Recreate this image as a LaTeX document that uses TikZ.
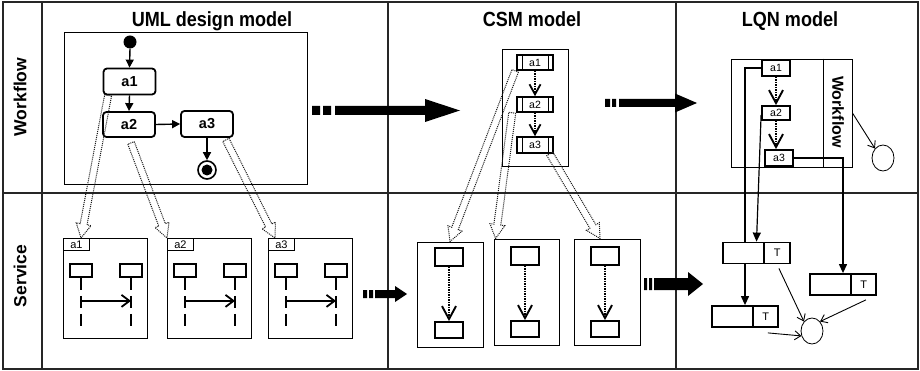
\documentclass[tikz,border=0pt]{standalone}
\usepackage{fontspec}
\setmainfont{Liberation Sans}
\usetikzlibrary{arrows.meta,calc,shapes.geometric}

\tikzset{
  grid/.style={line width=1.3pt, draw=black!85},
  title/.style={font=\fontsize{20.5}{24}\selectfont\bfseries, xscale=0.88, inner sep=0pt, anchor=base},
  lanelabel/.style={font=\fontsize{17.5}{20}\selectfont\bfseries, rotate=90, inner sep=0pt},
  container/.style={draw, line width=0.9pt, inner sep=0pt},
  act/.style={draw, line width=1.8pt, rounded corners=3.5pt, minimum width=52pt, minimum height=26pt,
    inner sep=0pt, font=\fontsize{14.5}{16}\selectfont\bfseries},
  tri/.style={line width=1.4pt, -{Triangle[length=8pt,width=8pt]}},
  hollow/.style={densely dotted, line width=1pt, draw=black!90},
  seqbox/.style={draw, line width=0.9pt, minimum width=84pt, minimum height=100pt, inner sep=0pt, anchor=north west},
  seqtab/.style={draw, line width=0.8pt, minimum width=26pt, minimum height=12pt, inner sep=0pt,
    anchor=north west, font=\fontsize{11}{12}\selectfont},
  lifehead/.style={draw, line width=1.8pt, minimum width=22pt, minimum height=13pt, inner sep=0pt},
  lifeline/.style={line width=1.4pt, dash pattern=on 12pt off 6pt},
  msg/.style={line width=1.8pt, -{Straight Barb[length=8pt,width=12pt]}},
  csmstep/.style={draw, line width=1.6pt, minimum width=36pt, minimum height=15pt, inner sep=0pt,
    font=\fontsize{10.5}{12}\selectfont,
    path picture={\draw[line width=0.9pt]
      ([xshift=5pt]path picture bounding box.north west) -- ([xshift=5pt]path picture bounding box.south west)
      ([xshift=-5pt]path picture bounding box.north east) -- ([xshift=-5pt]path picture bounding box.south east);}},
  dotarr/.style={densely dotted, line width=1.5pt, -{Straight Barb[length=10pt,width=11pt,line width=1.8pt]}},
  dotarrbig/.style={densely dotted, line width=1.5pt, -{Straight Barb[length=13pt,width=14pt,line width=1.9pt]}},
  csmrect/.style={draw, line width=1.8pt, minimum width=28pt, minimum height=18pt, inner sep=0pt},
  lqstep/.style={draw, line width=1.8pt, minimum width=28pt, minimum height=15pt, inner sep=0pt,
    font=\fontsize{10.5}{12}\selectfont},
  task/.style={draw, line width=1.8pt, minimum height=21pt, inner sep=0pt},
  tpart/.style={draw, line width=1.5pt, minimum width=26pt, minimum height=21pt, inner sep=0pt,
    anchor=east, font=\fontsize{11}{12}\selectfont},
  lqarr/.style={line width=1.2pt, -{Triangle[length=9pt,width=8pt]}},
  thinarr/.style={line width=0.9pt, -{Straight Barb[length=6pt,width=9pt]}},
  proc/.style={ellipse, draw, line width=0.8pt, minimum width=22pt, minimum height=26pt, inner sep=0pt},
}

% open block arrow with a dotted outline, from #1 to #2
\newcommand\blockarrow[2]{%
  \coordinate (ba-h) at ($(#2)!14pt!(#1)$);
  \draw[hollow]
    ($(#1)!3.5pt!90:(#2)$) -- ($(ba-h)!3.5pt!90:(#2)$) -- ($(ba-h)!7.5pt!90:(#2)$) -- (#2)
    -- ($(ba-h)!7.5pt!-90:(#2)$) -- ($(ba-h)!3.5pt!-90:(#2)$) -- ($(#1)!3.5pt!-90:(#2)$) -- cycle;
}

\begin{document}
\begin{tikzpicture}[x=1pt,y=-1pt]
\useasboundingbox (0,0) rectangle (920,371);
\fill[white] (0,0) rectangle (920,371);

% ---- table grid ----
\draw[grid] (3,2) rectangle (918,369);
\draw[grid] (42,2) -- (42,369);
\draw[grid] (388,2) -- (388,369);
\draw[grid] (676,2) -- (676,369);
\draw[grid] (3,193) -- (918,193);

\node[lanelabel] (lane-wf) at (20,97) {Workflow};
\node[lanelabel] (lane-sv) at (20,276) {Service};

\node[title] (t-uml) at (212,27) {UML design model};
\node[title] (t-csm) at (532,27) {CSM model};
\node[title] (t-lqn) at (790,27) {LQN model};

% ---- UML activity diagram ----
\node[container, minimum width=243pt, minimum height=152pt] (actframe) at (185.5,108) {};
\node[circle, fill, minimum size=13pt, inner sep=0pt] (init) at (130,42) {};
\node[act] (a1) at (129.5,81.5) {a1};
\node[act, minimum height=25pt] (a2) at (129,124.5) {a2};
\node[act] (a3) at (207,124) {a3};
\node[circle, draw, line width=1.6pt, minimum size=18pt, inner sep=0pt] (final) at (207,170) {};
\node[circle, fill, minimum size=11pt, inner sep=0pt] (finaldot) at (final) {};
\draw[tri] (init.south) -- (a1.north);
\draw[tri] (a1.south) -- (a2.north);
\draw[tri] (a2.east) -- (a3.west);
\draw[tri] (a3.south) -- (final.north);

% ---- UML sequence diagrams ----
\foreach \x/\l in {63/1,167/2,268/3} {
  \node[seqbox] (sd\l) at (\x,238) {};
  \node[seqtab] (sdtab\l) at (\x,238) {a\l};
  \node[lifehead] (lhA\l) at (\x+18,270.5) {};
  \node[lifehead] (lhB\l) at (\x+68,270.5) {};
  \draw[lifeline] (lhA\l.south) -- ++(0,50);
  \draw[lifeline] (lhB\l.south) -- ++(0,50);
  \draw[msg] ($(lhA\l.south)+(0,23)$) -- ($(lhB\l.south)+(0,23)$);
}

% refinement arrows activity -> interactions
\coordinate (h1s) at ([xshift=5.5pt]a1.south west);
\coordinate (h1e) at ([xshift=18pt]sd1.north west);
\coordinate (h2s) at ([yshift=-5pt,xshift=2pt]a2.south);
\coordinate (h2e) at (sd2.north west);
\coordinate (h3s) at ([xshift=-8pt,yshift=-2pt]a3.south east);
\coordinate (h3e) at ([xshift=7pt]sd3.north west);
\blockarrow{h1s}{h1e}
\blockarrow{h2s}{h2e}
\blockarrow{h3s}{h3e}

% ---- CSM workflow ----
\node[container, minimum width=66pt, minimum height=117pt] (csmframe) at (535,107.5) {};
\node[csmstep] (c1) at (535,62.5) {a1};
\node[csmstep] (c2) at (535,104.5) {a2};
\node[csmstep, minimum height=16pt] (c3) at (535,145) {a3};
\draw[dotarr] (c1.south) -- (c2.north);
\draw[dotarr] (c2.south) -- (c3.north);

% ---- CSM services ----
\node[container, minimum width=66pt, minimum height=105pt] (b1) at (450,294.5) {};
\node[container, minimum width=65pt, minimum height=106pt] (b2) at (526.5,292) {};
\node[container, minimum width=66pt, minimum height=106pt] (b3) at (607,292) {};
\node[csmrect] (i1t) at (449,257) {};
\node[csmrect, minimum height=16pt] (i1b) at (449,330) {};
\node[csmrect] (i2t) at (525,256) {};
\node[csmrect, minimum height=16pt] (i2b) at (525,329) {};
\node[csmrect] (i3t) at (605,256) {};
\node[csmrect, minimum height=16pt] (i3b) at (605,329) {};
\draw[dotarrbig] (i1t.south) -- (i1b.north);
\draw[dotarrbig] (i2t.south) -- (i2b.north);
\draw[dotarrbig] (i3t.south) -- (i3b.north);

\coordinate (h4s) at ([xshift=-1pt]c1.south west);
\coordinate (h4e) at (b1.north);
\coordinate (h5s) at ([xshift=-4pt]c2.south west);
\coordinate (h5e) at ([xshift=2pt]b2.north west);
\coordinate (h6s) at ([xshift=-4pt]c3.south east);
\coordinate (h6e) at ([xshift=-7pt]b3.north);
\blockarrow{h4s}{h4e}
\blockarrow{h5s}{h5e}
\blockarrow{h6s}{h6e}

% ---- LQN workflow ----
\node[container, minimum width=121pt, minimum height=108pt] (lqwf) at (791.5,113) {};
\draw[line width=0.9pt] ([xshift=-29pt]lqwf.north east) -- ([xshift=-29pt]lqwf.south east);
\node[font=\fontsize{16}{18}\selectfont\bfseries, rotate=-90, inner sep=0pt] (lqwflab) at (838,112) {Workflow};
\node[lqstep, minimum height=16pt] (lq1) at (776,68) {a1};
\node[lqstep, minimum height=14pt] (lq2) at (776,113) {a2};
\node[lqstep, minimum height=16pt] (lq3) at (779,158) {a3};
\draw[dotarrbig] (lq1.south) -- (lq2.north);
\draw[dotarrbig] (lq2.south) -- (lq2.south |- lq3.north);
\node[proc] (c1p) at (883,158) {};
\draw[thinarr] (lqwf.east) -- (c1p.north west);

% ---- LQN tasks ----
\node[task, minimum width=67pt] (t1) at (756.5,253) {};
\node[tpart] (t1T) at (t1.east) {T};
\node[task, minimum width=66pt] (t2) at (745,316.5) {};
\node[tpart, minimum width=25pt] (t2T) at (t2.east) {T};
\node[task, minimum width=66pt] (t3) at (843,284.5) {};
\node[tpart, minimum width=25pt] (t3T) at (t3.east) {T};
\node[proc] (c2p) at (812,331) {};

\draw[line width=1.2pt] (lq1.west) -| (t2.north |- t1.north);
\draw[lqarr] ([yshift=-2pt]lq2.west) -- (t1.north);
\draw[lqarr] (lq3.east) -| (t3.north);
\draw[lqarr] (t2.north |- t1.south) -- (t2.north);
\draw[thinarr] ([xshift=-12pt,yshift=-4pt]t1.south east) -- (c2p.north west);
\draw[thinarr] ([xshift=-11pt,yshift=-4pt]t3.south east) -- (c2p.north east);
\draw[thinarr] ([xshift=-11pt,yshift=-5pt]t2.south east) -- (c2p.205);

% ---- transformation arrows between models ----
\fill (312,106) rectangle (320,115) (323,106) rectangle (331,115);
\fill (335,106) -- (425,106) -- (425,99) -- (460,110.5) -- (425,122) -- (425,115) -- (335,115) -- cycle;

\fill (605,99) rectangle (610,107) (612,99) rectangle (616,107);
\fill (619,99) -- (675,99) -- (675,93.5) -- (697,103) -- (675,112.5) -- (675,107) -- (619,107) -- cycle;

\fill (363,290) rectangle (367,298) (369,290) rectangle (373,298);
\fill (375,290) -- (395,290) -- (395,286) -- (407,294) -- (395,302) -- (395,298) -- (375,298) -- cycle;

\fill (644,278) rectangle (647,290) (649,278) rectangle (652,290);
\fill (654,278) -- (688,278) -- (688,272) -- (703,284) -- (688,296) -- (688,290) -- (654,290) -- cycle;
\end{tikzpicture}
\end{document}
